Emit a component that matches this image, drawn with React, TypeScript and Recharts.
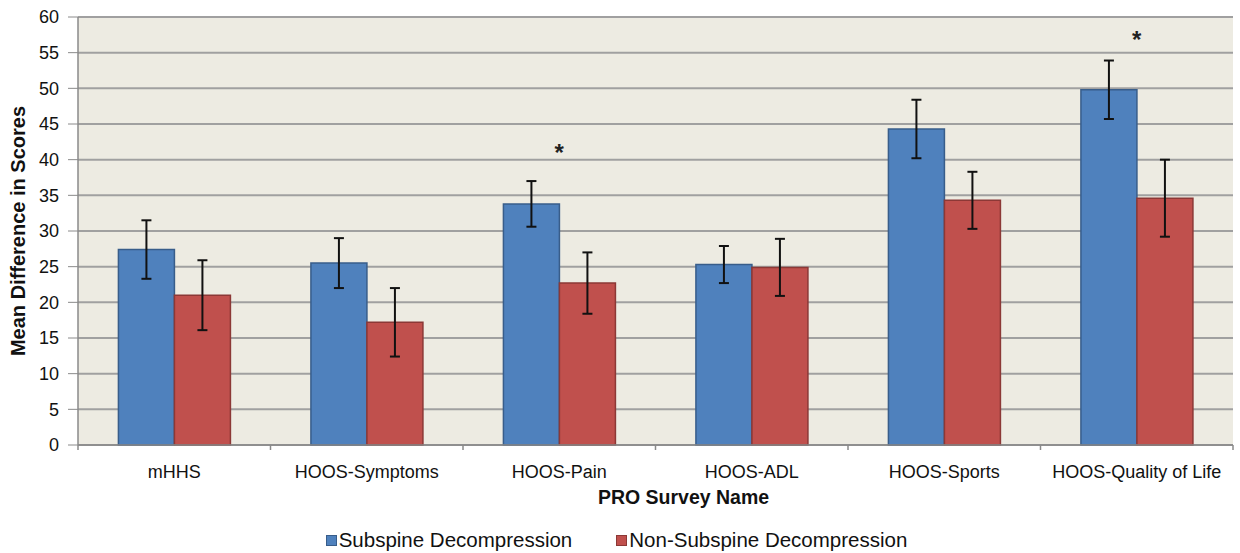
import React from 'react';
import {
  BarChart, Bar, XAxis, YAxis, CartesianGrid, ErrorBar, Legend, ReferenceDot,
} from 'recharts';

const categories = ['mHHS', 'HOOS-Symptoms', 'HOOS-Pain', 'HOOS-ADL', 'HOOS-Sports', 'HOOS-Quality of Life'];
const subspine = [27.4, 25.5, 33.8, 25.3, 44.3, 49.8];
const subspineErr = [4.1, 3.5, 3.2, 2.6, 4.1, 4.1];
const nonSubspine = [21.0, 17.2, 22.7, 24.9, 34.3, 34.6];
const nonSubspineErr = [4.9, 4.8, 4.3, 4.0, 4.0, 5.4];
const yTicks = [0, 5, 10, 15, 20, 25, 30, 35, 40, 45, 50, 55, 60];
const significant = [
  { category: 'HOOS-Pain', y: 41.0 },
  { category: 'HOOS-Quality of Life', y: 56.9 },
];
const seriesNames = ['Subspine Decompression', 'Non-Subspine Decompression'];

const data = categories.map((c, i) => ({
  name: c,
  sub: subspine[i],
  subErr: subspineErr[i],
  non: nonSubspine[i],
  nonErr: nonSubspineErr[i],
}));

const FONT = '"Liberation Sans", Arial, sans-serif';
const BLUE = '#4F81BD';
const RED = '#C0504D';
const X_TICK_GAP = 20; // tickSize + tickMargin

const Star = (props: any) => (
  <text x={props.cx} y={props.cy} textAnchor="middle" dominantBaseline="central"
    fontSize={24} fontWeight="bold" fontFamily={FONT} fill="#222">*</text>
);

const XTick = (props: any) => {
  const { x, y, payload, index, visibleTicksCount } = props;
  const half = payload.offset || 0;
  const axisY = y - X_TICK_GAP;
  const isLast = index === (visibleTicksCount ?? categories.length) - 1;
  return (
    <g>
      <line x1={x - half} x2={x - half} y1={axisY} y2={axisY + 5} stroke="#8A8A8A" strokeWidth={1.5} />
      {isLast && <line x1={x + half} x2={x + half} y1={axisY} y2={axisY + 5} stroke="#8A8A8A" strokeWidth={1.5} />}
      <text x={x} y={y} dy="0.71em" textAnchor="middle" fill="#111" fontSize={18} fontFamily={FONT}>{payload.value}</text>
    </g>
  );
};

const LegendContent = () => (
  <div style={{ boxSizing: 'border-box', height: 46, paddingTop: 20, display: 'flex', justifyContent: 'center', alignItems: 'center', fontFamily: FONT, fontSize: 20.5, color: '#111' }}>
    {seriesNames.map((n, i) => (
      <div key={n} style={{ display: 'flex', alignItems: 'center', marginRight: i === 0 ? 44 : 0 }}>
        <span style={{ display: 'inline-block', boxSizing: 'border-box', width: 11, height: 11, background: i === 0 ? BLUE : RED, border: `1px solid ${i === 0 ? '#385D8A' : '#8C3836'}`, marginRight: 2 }} />
        <span>{n}</span>
      </div>
    ))}
  </div>
);

export default function App() {
  return (
    <div style={{ position: 'absolute', left: 0, top: 0, background: '#fff' }}>
      <BarChart width={1240} height={553} data={data}
        margin={{ top: 17, right: 7, left: 0, bottom: 0 }}
        barCategoryGap="21%" barGap={0}>
        <CartesianGrid horizontal vertical={false} fill="#EDEBE2" stroke="#A0A0A0" strokeWidth={2} />
        <XAxis dataKey="name" tickLine={false} tickSize={6} tickMargin={14}
          axisLine={{ stroke: '#8A8A8A', strokeWidth: 1.5 }}
          tick={<XTick />}
          height={62} interval={0}
          label={{ value: 'PRO Survey Name', position: 'insideBottom', offset: 3, dx: 28, fill: '#111', fontSize: 19.5, fontWeight: 'bold', fontFamily: FONT }} />
        <YAxis domain={[0, 60]} ticks={yTicks} width={78} interval={0}
          axisLine={{ stroke: '#8A8A8A', strokeWidth: 1.5 }} tickLine={{ stroke: '#8A8A8A' }} tickSize={10} tickMargin={9}
          tick={{ fill: '#111', fontSize: 18, fontFamily: FONT }}
          label={{ value: 'Mean Difference in Scores', angle: -90, position: 'insideLeft', offset: 18, style: { textAnchor: 'middle' }, fill: '#111', fontSize: 20, fontWeight: 'bold', fontFamily: FONT }} />
        <Legend verticalAlign="bottom" height={46} content={<LegendContent />} />
        <Bar dataKey="sub" name={seriesNames[0]} fill={BLUE} stroke="#385D8A" strokeWidth={1.5} isAnimationActive={false}>
          <ErrorBar dataKey="subErr" width={5} stroke="#111" strokeWidth={2} direction="y" />
        </Bar>
        <Bar dataKey="non" name={seriesNames[1]} fill={RED} stroke="#8C3836" strokeWidth={1.5} isAnimationActive={false}>
          <ErrorBar dataKey="nonErr" width={5} stroke="#111" strokeWidth={2} direction="y" />
        </Bar>
        {significant.map((s) => (
          <ReferenceDot key={s.category} x={s.category} y={s.y} r={4} shape={<Star />} ifOverflow="visible" />
        ))}
      </BarChart>
    </div>
  );
}
